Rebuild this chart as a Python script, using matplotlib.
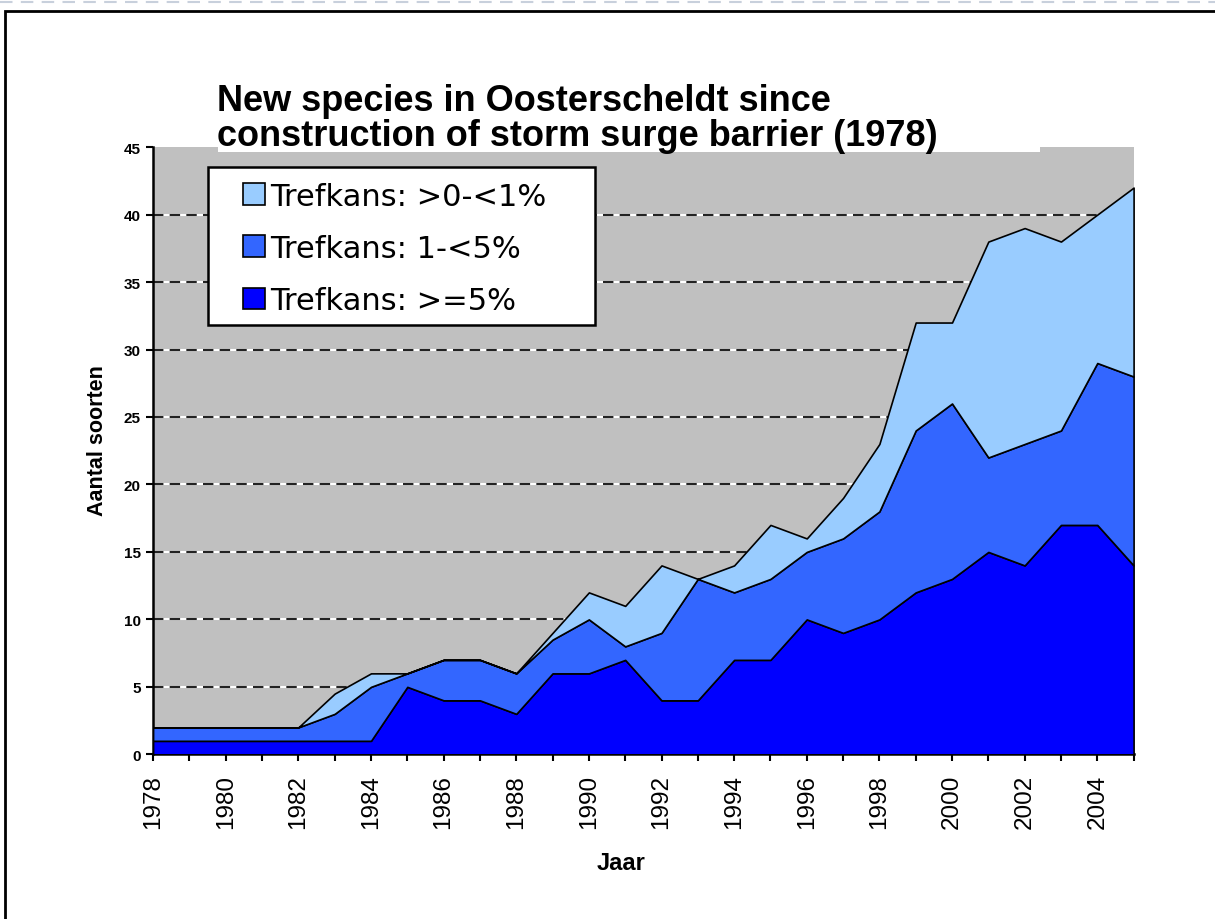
import matplotlib
matplotlib.use("Agg")
import matplotlib.pyplot as plt
from matplotlib.patches import Rectangle, Patch

plt.rcParams['font.family'] = ['Liberation Sans', 'DejaVu Sans']

years = list(range(1978, 2006))
# number of species per category (stacked)
ge5 = [1, 1, 1, 1, 1, 1, 1, 5, 4, 4, 3, 6, 6, 7, 4, 4, 7, 7, 10, 9, 10, 12, 13, 15, 14, 17, 17, 14]
mid = [1, 1, 1, 1, 1, 2, 4, 1, 3, 3, 3, 2.5, 4, 1, 5, 9, 5, 6, 5, 7, 8, 12, 13, 7, 9, 7, 12, 14]
low = [0, 0, 0, 0, 0, 1.5, 1, 0, 0, 0, 0, 0.5, 2, 3, 5, 0, 2, 4, 1, 3, 5, 8, 6, 16, 16, 14, 11, 14]

labels = ["Trefkans: >0-<1%", "Trefkans: 1-<5%", "Trefkans: >=5%"]
colors = ["#99CCFF", "#3366FF", "#0000FF"]

fig = plt.figure(figsize=(12.15, 9.2), dpi=100)
ax = fig.add_axes([0.126, 0.179, 0.807, 0.660])

ax.set_facecolor("#C0C0C0")
ax.stackplot(years, ge5, mid, low, colors=[colors[2], colors[1], colors[0]],
             edgecolor="black", linewidth=1.2, zorder=3)

# gridlines: white underneath, black dashes on top
for y in range(5, 45, 5):
    ax.axhline(y, color="white", lw=1.5, zorder=1)
    ax.axhline(y, color="#222222", lw=1.5, ls=(0, (5, 3)), zorder=2)

ax.set_xlim(1978, 2005)
ax.set_ylim(0, 45)
ax.set_yticks(range(0, 46, 5))
ax.set_xticks(range(1978, 2005, 2))
ax.set_xticks(range(1979, 2006, 2), minor=True)
ax.tick_params(axis="both", which="both", direction="out", length=5, width=1.5)
ax.tick_params(axis="x", labelsize=17.5, labelrotation=90, pad=9)
ax.tick_params(axis="y", labelsize=11, pad=4)
for t in ax.get_yticklabels():
    t.set_fontweight("bold")

ax.spines["top"].set_visible(False)
ax.spines["right"].set_visible(False)
ax.spines["left"].set_linewidth(1.8)
ax.spines["bottom"].set_linewidth(1.8)

ax.set_xlabel("Jaar", fontsize=17, fontweight="bold")
ax.xaxis.set_label_coords(0.477, -0.16)
ax.set_ylabel("Aantal soorten", fontsize=15.5, fontweight="bold")
ax.yaxis.set_label_coords(-0.046, 0.519)

# legend: own frame box, entries placed inside it
ax.add_patch(Rectangle((0.0561, 0.7068), 0.395, 0.260, transform=ax.transAxes,
                       facecolor="white", edgecolor="black", linewidth=1.8, zorder=5))
handles = [Patch(facecolor=c, edgecolor="black", linewidth=1.2) for c in colors]
leg = ax.legend(handles, labels, loc="upper left", bbox_to_anchor=(0.0918, 0.943),
                prop={"family": "DejaVu Sans", "size": 22}, frameon=False,
                handlelength=0.72, handleheight=0.72, handletextpad=0.15,
                labelspacing=0.76, borderpad=0, borderaxespad=0)
leg.set_zorder(6)

# white band behind the title, slightly covering the top of the plot area
fig.patches.append(Rectangle((218 / 1215, 1 - 153 / 920), 822 / 1215, 0.08,
                             transform=fig.transFigure, facecolor="white",
                             edgecolor="none", zorder=2))
fig.text(0.179, 0.8705, "New species in Oosterscheldt since\nconstruction of storm surge barrier (1978)",
         fontsize=26, fontweight="bold", ha="left", va="center", linespacing=1.0, zorder=3)

# outer frame and faint dashed line at the top
fig.patches.append(Rectangle((0.004, -0.1), 1.2, 1.087, transform=fig.transFigure,
                             fill=False, edgecolor="black", linewidth=2))
fig.lines.append(plt.Line2D([0, 1], [0.997, 0.997], transform=fig.transFigure,
                            color="#c8d0dc", lw=1.5, ls=(0, (6, 4))))

fig.savefig("out.png", dpi=100)
